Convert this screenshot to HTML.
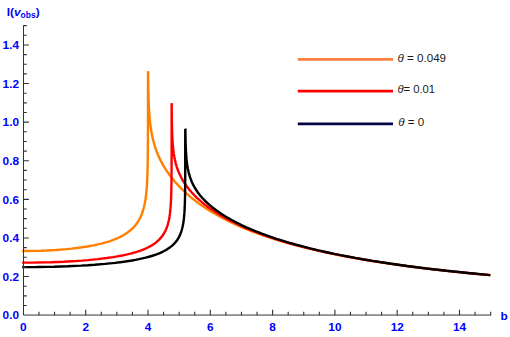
<!DOCTYPE html>
<html><head><meta charset="utf-8"><title>plot</title>
<style>
html,body{margin:0;padding:0;background:#fff;}
svg{display:block}
text{font-family:"Liberation Sans",sans-serif;}
.t{font-weight:bold;font-size:11.8px;fill:#0000ff}
.l{font-size:11.6px;fill:#1a1a1a}
</style></head><body>
<svg width="510" height="337" viewBox="0 0 510 337">
<rect width="510" height="337" fill="#fff"/>
<g fill="none" stroke-linejoin="bevel" stroke-linecap="butt" stroke-width="2.4">
<path d="M22.20 251.02 L33.59 250.92 L41.24 250.71 L46.34 250.51 L56.53 249.93 L61.63 249.56 L66.73 249.11 L71.82 248.59 L76.92 247.99 L82.02 247.30 L87.12 246.50 L92.21 245.58 L94.76 245.07 L99.86 243.93 L102.41 243.29 L107.50 241.85 L110.05 241.03 L112.60 240.14 L115.15 239.16 L117.70 238.08 L120.25 236.88 L122.80 235.54 L125.35 234.04 L127.89 232.31 L130.44 230.32 L132.99 227.97 L135.54 225.13 L138.03 221.67 L140.02 218.15 L141.61 214.59 L142.88 210.98 L143.90 207.34 L144.72 203.67 L145.38 199.98 L145.90 196.27 L146.32 192.54 L146.65 188.81 L146.92 185.06 L147.31 177.54 L147.56 169.99 L147.72 162.43 L147.85 151.07 L147.97 124.52 L148.00 71.40 L148.12 71.61 L148.23 83.10 L148.44 94.66 L148.69 102.45 L148.86 106.38 L149.35 114.35 L149.68 118.41 L150.10 122.53 L150.62 126.72 L151.28 131.01 L152.10 135.41 L153.12 139.95 L154.39 144.65 L155.98 149.56 L157.97 154.71 L160.46 160.13 L163.23 165.31 L166.01 169.85 L168.78 173.91 L171.56 177.61 L174.33 181.01 L177.11 184.17 L179.88 187.11 L182.66 189.88 L185.43 192.50 L188.21 194.97 L190.98 197.32 L193.76 199.56 L196.53 201.70 L199.31 203.74 L202.08 205.70 L204.86 207.58 L207.63 209.39 L213.18 212.80 L218.73 215.98 L224.28 218.94 L229.83 221.72 L235.38 224.34 L240.93 226.80 L246.48 229.12 L252.03 231.32 L260.35 234.40 L265.90 236.33 L274.22 239.05 L279.77 240.76 L288.10 243.18 L293.65 244.70 L301.97 246.87 L310.29 248.92 L318.62 250.85 L326.94 252.68 L335.27 254.40 L343.59 256.03 L354.69 258.08 L363.01 259.52 L374.11 261.34 L382.44 262.63 L393.54 264.26 L404.63 265.80 L415.73 267.24 L426.83 268.61 L437.93 269.90 L449.03 271.13 L462.90 272.57 L476.78 273.93 L490.30 275.18" stroke="#ff8000"/>
<path d="M22.20 262.62 L35.74 262.54 L45.00 262.37 L51.17 262.20 L63.52 261.72 L75.86 261.02 L82.03 260.59 L88.21 260.08 L97.46 259.17 L106.72 258.05 L112.89 257.14 L115.98 256.64 L122.15 255.50 L125.24 254.85 L128.32 254.15 L131.41 253.38 L134.50 252.53 L137.58 251.58 L140.67 250.53 L143.75 249.35 L146.84 248.00 L149.92 246.44 L153.01 244.61 L156.10 242.40 L159.18 239.66 L161.67 236.86 L163.66 234.01 L165.25 231.14 L166.53 228.24 L167.55 225.32 L168.36 222.38 L169.02 219.43 L169.54 216.46 L169.96 213.49 L170.30 210.51 L170.78 204.53 L171.09 198.53 L171.29 192.52 L171.46 183.49 L171.55 174.46 L171.61 159.38 L171.64 103.24 L171.70 103.82 L171.87 122.01 L172.00 128.11 L172.20 134.26 L172.51 140.46 L172.72 143.59 L172.99 146.75 L173.32 149.95 L173.74 153.19 L174.27 156.49 L174.92 159.85 L175.74 163.30 L176.76 166.84 L178.03 170.51 L179.63 174.33 L181.62 178.33 L184.10 182.53 L186.68 186.28 L189.25 189.59 L191.83 192.57 L194.41 195.30 L196.98 197.82 L199.56 200.16 L202.14 202.37 L204.71 204.45 L207.29 206.42 L209.86 208.29 L212.44 210.07 L217.59 213.42 L222.74 216.50 L227.90 219.36 L233.05 222.03 L238.20 224.53 L243.35 226.88 L248.50 229.09 L253.66 231.19 L258.81 233.17 L263.96 235.06 L271.69 237.72 L276.84 239.39 L284.57 241.76 L289.72 243.25 L297.45 245.37 L305.18 247.37 L312.90 249.27 L320.63 251.07 L328.36 252.76 L336.09 254.37 L343.82 255.90 L351.54 257.36 L361.85 259.19 L369.58 260.49 L379.88 262.13 L390.18 263.68 L400.49 265.14 L410.79 266.53 L421.10 267.84 L431.40 269.08 L441.71 270.26 L452.01 271.39 L464.89 272.72 L477.77 273.98 L490.30 275.14" stroke="#ff0000"/>
<path d="M22.20 267.10 L36.98 267.02 L47.17 266.86 L53.96 266.71 L67.54 266.26 L81.12 265.61 L87.91 265.21 L94.70 264.74 L104.89 263.89 L115.08 262.84 L121.87 261.99 L125.26 261.52 L132.05 260.45 L135.45 259.84 L138.85 259.17 L142.24 258.44 L145.64 257.64 L149.03 256.74 L152.43 255.74 L155.82 254.61 L159.22 253.31 L162.61 251.80 L166.01 250.02 L169.40 247.85 L172.80 245.10 L175.29 242.52 L177.28 239.91 L178.87 237.28 L180.14 234.62 L181.17 231.94 L181.98 229.25 L182.64 226.55 L183.16 223.84 L183.58 221.11 L183.91 218.39 L184.40 212.92 L184.71 207.43 L184.91 201.94 L185.08 193.69 L185.22 174.42 L185.26 128.91 L185.38 129.06 L185.49 137.38 L185.61 142.95 L185.95 151.37 L186.34 157.06 L186.61 159.94 L186.94 162.84 L187.36 165.79 L187.88 168.78 L188.54 171.83 L189.36 174.94 L190.38 178.15 L191.65 181.45 L193.24 184.88 L195.23 188.47 L197.72 192.23 L200.18 195.44 L202.64 198.28 L205.10 200.85 L207.57 203.20 L210.03 205.37 L212.49 207.40 L214.95 209.31 L217.41 211.11 L219.87 212.82 L222.34 214.45 L224.80 216.00 L227.26 217.49 L232.18 220.29 L237.11 222.88 L242.03 225.31 L246.95 227.58 L251.88 229.72 L256.80 231.74 L261.72 233.65 L266.64 235.46 L271.57 237.19 L276.49 238.84 L283.88 241.17 L288.80 242.64 L296.18 244.73 L303.57 246.69 L310.95 248.56 L318.34 250.33 L325.72 252.00 L333.11 253.59 L340.49 255.10 L347.88 256.53 L355.26 257.90 L362.65 259.20 L372.49 260.86 L379.88 262.03 L389.72 263.52 L406.96 265.95 L416.80 267.23 L426.65 268.46 L446.34 270.73 L468.50 273.04 L490.30 275.10" stroke="#000000"/>
</g>
<g fill="none" stroke="#333333" stroke-width="1">
<path d="M23.5 25.35 V315.05 H491.05"/>
<path d="M38.97 315.15 v-3.4 M54.55 315.15 v-3.4 M70.12 315.15 v-3.4 M85.70 315.15 v-5.5 M101.28 315.15 v-3.4 M116.85 315.15 v-3.4 M132.42 315.15 v-3.4 M148.00 315.15 v-5.5 M163.57 315.15 v-3.4 M179.15 315.15 v-3.4 M194.72 315.15 v-3.4 M210.30 315.15 v-5.5 M225.88 315.15 v-3.4 M241.45 315.15 v-3.4 M257.02 315.15 v-3.4 M272.60 315.15 v-5.5 M288.17 315.15 v-3.4 M303.75 315.15 v-3.4 M319.32 315.15 v-3.4 M334.90 315.15 v-5.5 M350.47 315.15 v-3.4 M366.05 315.15 v-3.4 M381.62 315.15 v-3.4 M397.20 315.15 v-5.5 M412.77 315.15 v-3.4 M428.35 315.15 v-3.4 M443.92 315.15 v-3.4 M459.50 315.15 v-5.5 M475.07 315.15 v-3.4 M490.65 315.15 v-3.4 M23.40 305.50 h3.4 M23.40 295.85 h3.4 M23.40 286.20 h3.4 M23.40 276.55 h5.5 M23.40 266.90 h3.4 M23.40 257.25 h3.4 M23.40 247.60 h3.4 M23.40 237.95 h5.5 M23.40 228.30 h3.4 M23.40 218.65 h3.4 M23.40 209.00 h3.4 M23.40 199.35 h5.5 M23.40 189.70 h3.4 M23.40 180.05 h3.4 M23.40 170.40 h3.4 M23.40 160.75 h5.5 M23.40 151.10 h3.4 M23.40 141.45 h3.4 M23.40 131.80 h3.4 M23.40 122.15 h5.5 M23.40 112.50 h3.4 M23.40 102.85 h3.4 M23.40 93.20 h3.4 M23.40 83.55 h5.5 M23.40 73.90 h3.4 M23.40 64.25 h3.4 M23.40 54.60 h3.4 M23.40 44.95 h5.5 M23.40 35.30 h3.4 M23.40 25.65 h3.4" stroke-width="1.1"/>
</g>
<g class="t"><text x="23.40" y="330.5" text-anchor="middle">0</text><text x="85.70" y="330.5" text-anchor="middle">2</text><text x="148.00" y="330.5" text-anchor="middle">4</text><text x="210.30" y="330.5" text-anchor="middle">6</text><text x="272.60" y="330.5" text-anchor="middle">8</text><text x="334.90" y="330.5" text-anchor="middle">10</text><text x="397.20" y="330.5" text-anchor="middle">12</text><text x="459.50" y="330.5" text-anchor="middle">14</text><text x="19" y="319.45" text-anchor="end">0.0</text><text x="19" y="280.85" text-anchor="end">0.2</text><text x="19" y="242.25" text-anchor="end">0.4</text><text x="19" y="203.65" text-anchor="end">0.6</text><text x="19" y="165.05" text-anchor="end">0.8</text><text x="19" y="126.45" text-anchor="end">1.0</text><text x="19" y="87.85" text-anchor="end">1.2</text><text x="19" y="49.25" text-anchor="end">1.4</text>
<text x="500.6" y="319.7">b</text>
<text x="6.8" y="15.6">I(<tspan font-style="italic">v</tspan><tspan font-size="8.5" dy="2.8">obs</tspan><tspan dy="-2.8">)</tspan></text>
</g>
<g fill="none" stroke-width="2.8">
<path d="M297.8 59.4 H393" stroke="#ff8040"/>
<path d="M297.8 91.1 H393" stroke="#ff0000"/>
<path d="M297.8 123.8 H393" stroke="#040445"/>
</g>
<g class="l">
<text x="397.5" y="61.6"><tspan font-style="italic">θ</tspan> = 0.049</text>
<text x="397.5" y="93.3" textLength="37.6" lengthAdjust="spacingAndGlyphs"><tspan font-style="italic">θ</tspan>= 0.01</text>
<text x="398.3" y="126.1"><tspan font-style="italic">θ</tspan> = 0</text>
</g>
</svg>
</body></html>
